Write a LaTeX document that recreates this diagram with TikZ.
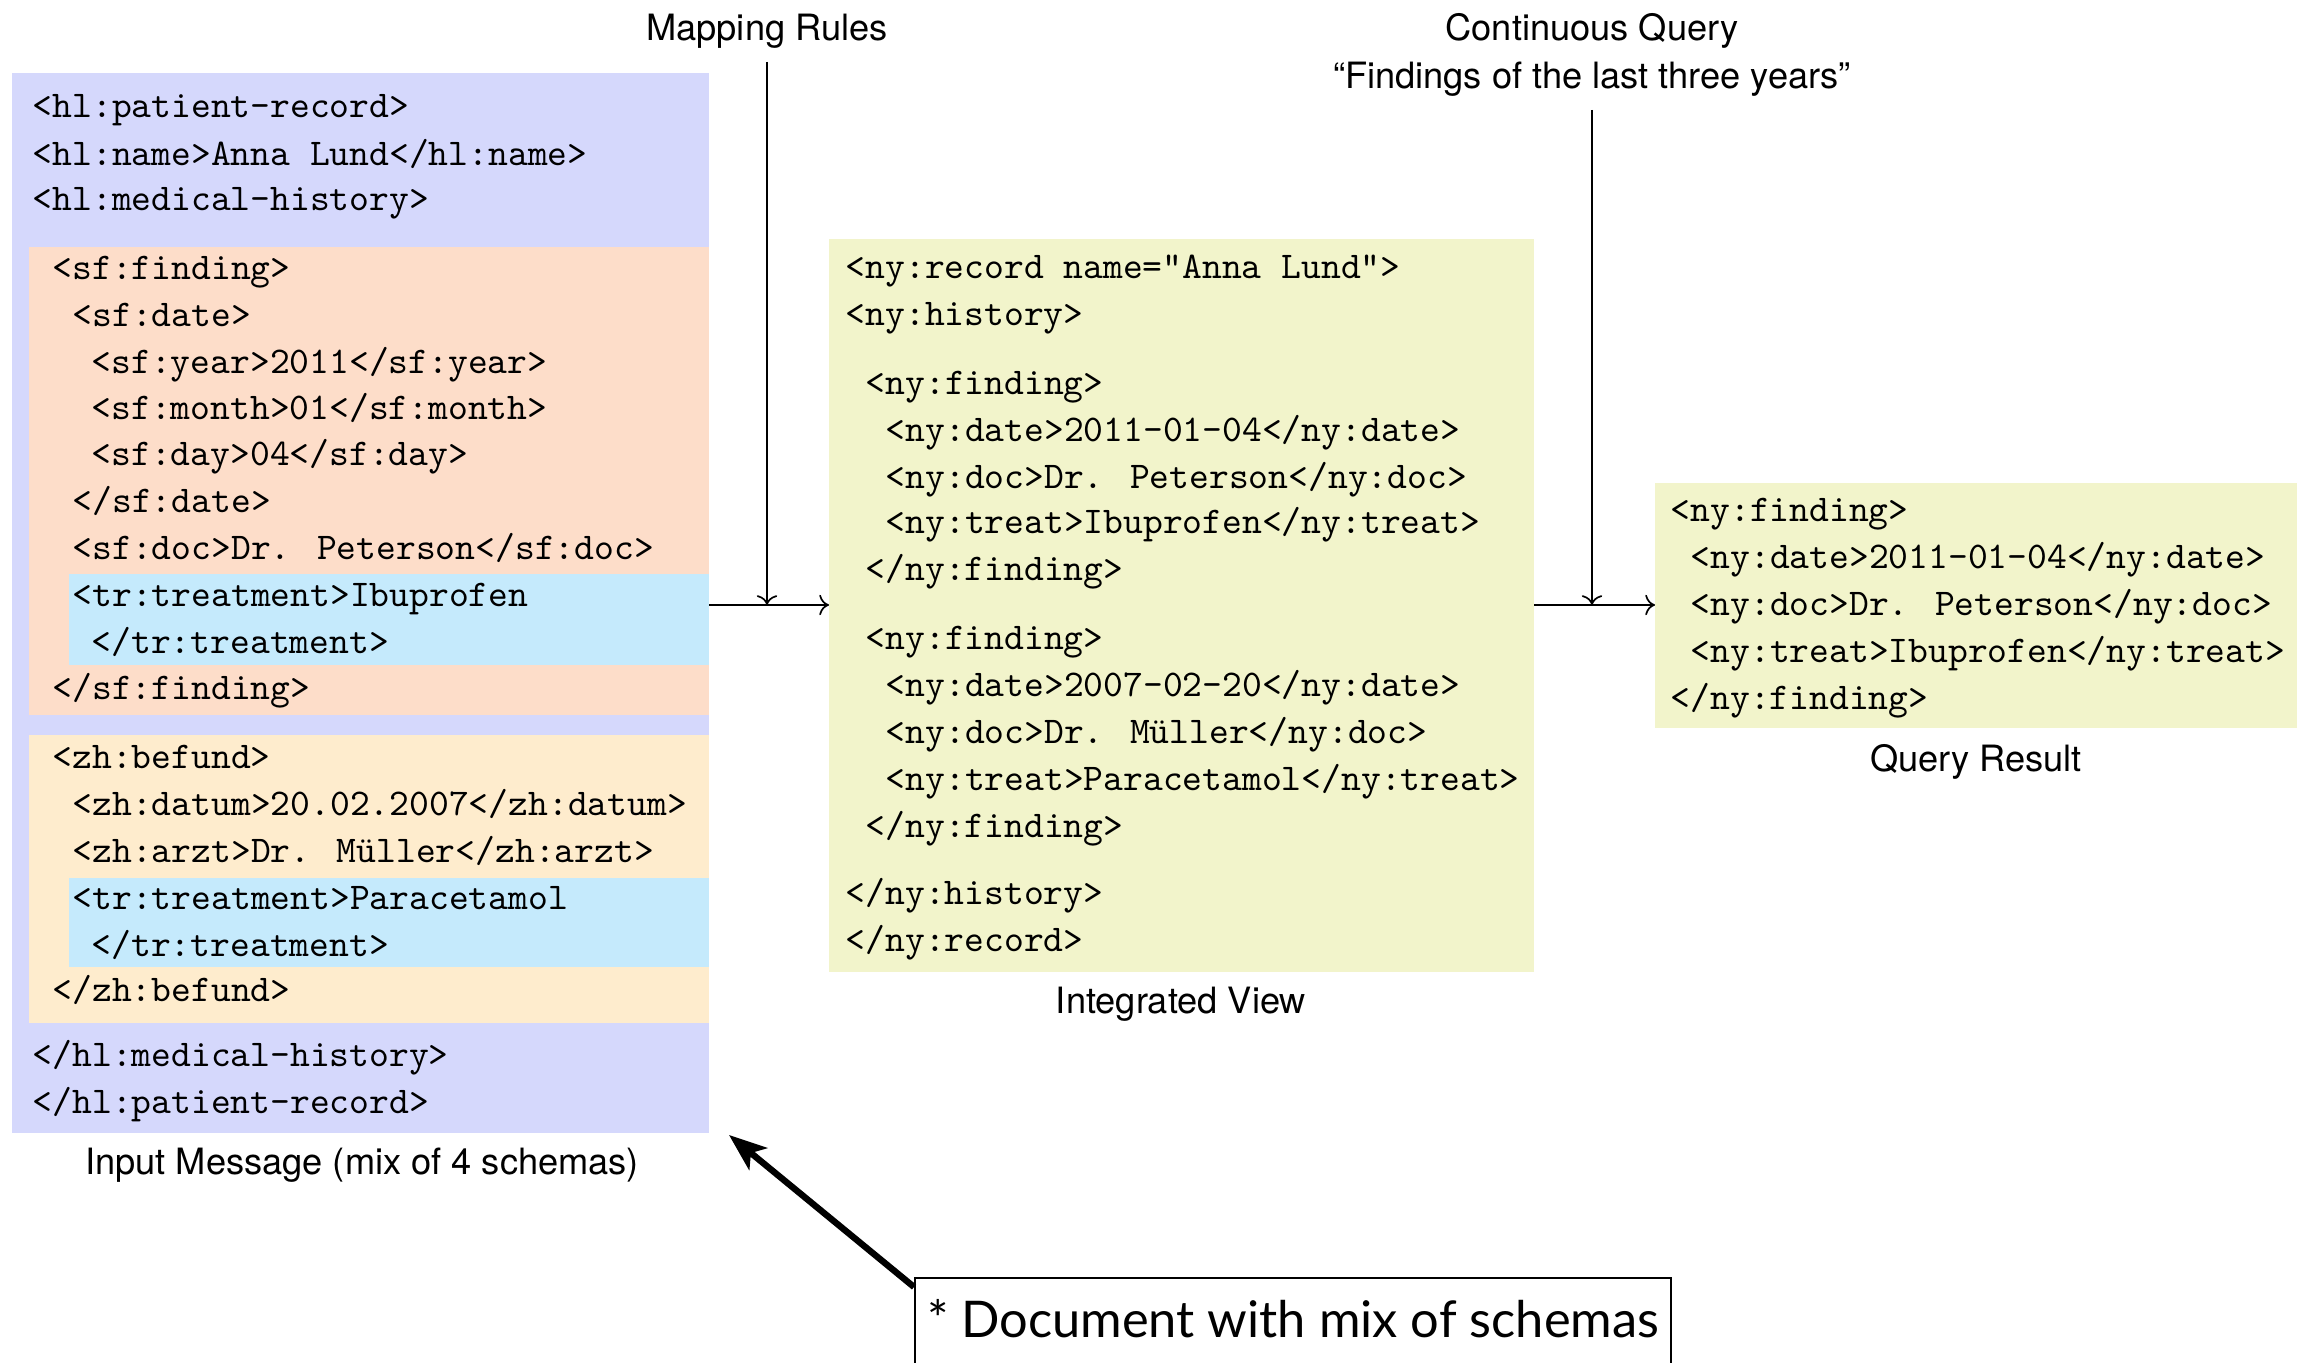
\documentclass[tikz,border=0pt]{standalone}
\usepackage{fontspec}
\setsansfont{TeX Gyre Heros}
\newfontfamily\callfont{Lato}
\usetikzlibrary{arrows.meta,calc,fit}
\definecolor{hlblue}{RGB}{213,216,252}
\definecolor{sfpeach}{RGB}{253,221,201}
\definecolor{trblue}{RGB}{197,234,252}
\definecolor{zhcream}{RGB}{254,236,205}
\definecolor{nyyellow}{RGB}{242,244,203}
\newcommand\codeln[4]{\node[code] (#1) at (#2,#3) {#4};}
\begin{document}
\begin{tikzpicture}[x=0.265pt,y=-0.265pt,
  panel/.style={inner sep=0pt, outer sep=0pt, draw=none},
  code/.style={font=\fontsize{10}{12}\selectfont\ttfamily, inner sep=0pt, anchor=base west, yshift=-0.8pt},
  caption/.style={font=\fontsize{9.6}{12.8}\selectfont\sffamily, inner sep=0pt, yshift=-0.8pt},
  flow/.style={->, line width=0.45pt},
  bigarrow/.style={line width=1.7pt, -{Stealth[length=10pt,width=7.5pt,inset=2.5pt]}},
]
\useasboundingbox (0,0) rectangle (2301,1363);
\clip (0,0) rectangle (2301,1363);

% ---------- panels ----------
\node[panel, fill=hlblue, fit={(12,73) (709,1133)}] (blue) {};
\node[panel, fill=sfpeach, fit={(29,247) (709,715)}] (sf) {};
\node[panel, fill=trblue, fit={(69,574) (709,665)}] (tra) {};
\node[panel, fill=zhcream, fit={(29,735) (709,1023)}] (zh) {};
\node[panel, fill=trblue, fit={(69,878) (709,967)}] (trb) {};
\node[panel, fill=nyyellow, fit={(829,239) (1534,972)}] (mid) {};
\node[panel, fill=nyyellow, fit={(1655,483) (2297,728)}] (res) {};

% ---------- input message ----------
\codeln{l1}{32}{115}{<hl:patient-record>}
\codeln{l2}{32}{162}{<hl:name>Anna Lund</hl:name>}
\codeln{l3}{32}{207}{<hl:medical-history>}
\codeln{l4}{52}{276}{<sf:finding>}
\codeln{l5}{72}{323}{<sf:date>}
\codeln{l6}{91}{370}{<sf:year>2011</sf:year>}
\codeln{l7}{91}{416}{<sf:month>01</sf:month>}
\codeln{l8}{91}{462}{<sf:day>04</sf:day>}
\codeln{l9}{72}{509}{</sf:date>}
\codeln{l10}{72}{556}{<sf:doc>Dr. Peterson</sf:doc>}
\codeln{l11}{72}{603}{<tr:treatment>Ibuprofen}
\codeln{l12}{91}{650}{</tr:treatment>}
\codeln{l13}{52}{696}{</sf:finding>}
\codeln{l14}{52}{765}{<zh:befund>}
\codeln{l15}{72}{812}{<zh:datum>20.02.2007</zh:datum>}
\codeln{l16}{72}{859}{<zh:arzt>Dr. Müller</zh:arzt>}
\codeln{l17}{72}{906}{<tr:treatment>Paracetamol}
\codeln{l18}{91}{953}{</tr:treatment>}
\codeln{l19}{52}{998}{</zh:befund>}
\codeln{l20}{32}{1063}{</hl:medical-history>}
\codeln{l21}{32}{1110}{</hl:patient-record>}

% ---------- integrated view ----------
\codeln{m1}{845}{275}{<ny:record name="Anna Lund">}
\codeln{m2}{845}{322}{<ny:history>}
\codeln{m3}{865}{391}{<ny:finding>}
\codeln{m4}{885}{438}{<ny:date>2011-01-04</ny:date>}
\codeln{m5}{885}{485}{<ny:doc>Dr. Peterson</ny:doc>}
\codeln{m6}{885}{530}{<ny:treat>Ibuprofen</ny:treat>}
\codeln{m7}{865}{577}{</ny:finding>}
\codeln{m8}{865}{646}{<ny:finding>}
\codeln{m9}{885}{693}{<ny:date>2007-02-20</ny:date>}
\codeln{m10}{885}{740}{<ny:doc>Dr. Müller</ny:doc>}
\codeln{m11}{885}{787}{<ny:treat>Paracetamol</ny:treat>}
\codeln{m12}{865}{834}{</ny:finding>}
\codeln{m13}{845}{901}{</ny:history>}
\codeln{m14}{845}{948}{</ny:record>}

% ---------- query result ----------
\codeln{r1}{1670}{518}{<ny:finding>}
\codeln{r2}{1690}{565}{<ny:date>2011-01-04</ny:date>}
\codeln{r3}{1690}{612}{<ny:doc>Dr. Peterson</ny:doc>}
\codeln{r4}{1690}{659}{<ny:treat>Ibuprofen</ny:treat>}
\codeln{r5}{1670}{706}{</ny:finding>}

% ---------- captions ----------
\node[caption] (maprules) at (767,28) {Mapping Rules};
\node[caption, align=center] (cquery) at (1592,52) {Continuous Query\\“Findings of the last three years”};
\node[caption] (inlabel) at (362,1162) {Input Message (mix of 4 schemas)};
\node[caption] (ivlabel) at (1181,1001) {Integrated View};
\node[caption] (qrlabel) at (1976,759) {Query Result};

% ---------- connectors ----------
\coordinate (j1) at (767,605);
\coordinate (j2) at (1592,605);
\coordinate (mtop) at (767,62);
\coordinate (qtop) at (1592,110);
\draw[flow] (blue.east |- j1) -- (mid.west |- j1);
\draw[flow] (mid.east |- j2) -- (res.west |- j2);
\draw[flow] (mtop) -- (j1);
\draw[flow] (qtop) -- (j2);

% ---------- callout ----------
\node[draw, line width=0.6pt, anchor=north west, minimum width=200.3pt, minimum height=27pt,
      inner sep=0pt, text depth=5.5pt, font=\fontsize{13.4}{16}\selectfont\callfont] (callout) at (914,1277)
      {* Document with mix of schemas};
\coordinate (cs) at ($(callout.north west)+(0,10)$);
\coordinate (ce) at ($(blue.south east)+(20,2)$);
\draw[bigarrow] (cs) -- (ce);
\end{tikzpicture}
\end{document}
